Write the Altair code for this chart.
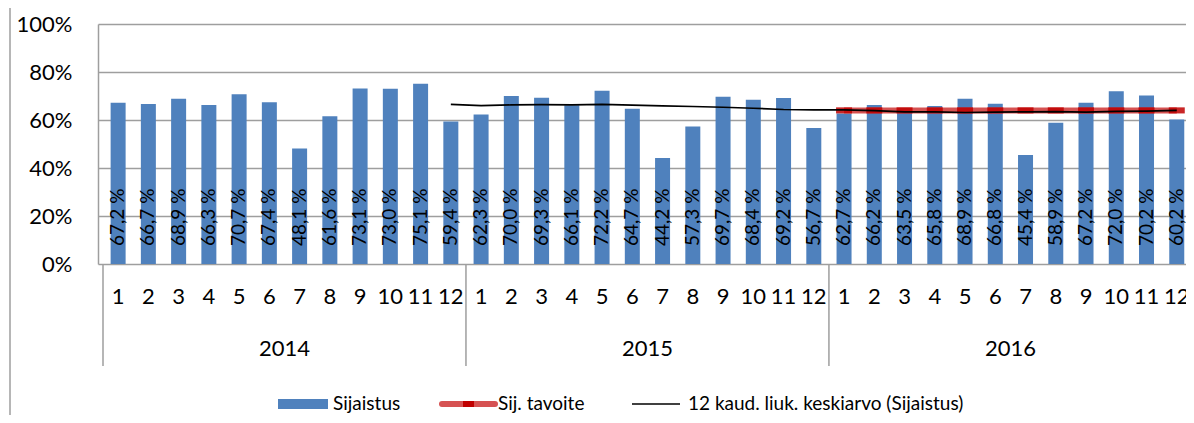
import altair as alt
import pandas as pd

years = ["2014"] * 12 + ["2015"] * 12 + ["2016"] * 12
months = [str(m) for m in range(1, 13)] * 3
sijaistus = [67.2, 66.7, 68.9, 66.3, 70.7, 67.4, 48.1, 61.6, 73.1, 73.0, 75.1, 59.4,
             62.3, 70.0, 69.3, 66.1, 72.2, 64.7, 44.2, 57.3, 69.7, 68.4, 69.2, 56.7,
             62.7, 66.2, 63.5, 65.8, 68.9, 66.8, 45.4, 58.9, 67.2, 72.0, 70.2, 60.2]
liuk_keskiarvo = [None] * 11 + [66.5,
                  66.0, 66.3, 66.4, 66.3, 66.5, 66.2, 65.9, 65.6, 65.3, 64.9, 64.4, 64.2,
                  64.2, 63.9, 63.4, 63.4, 63.1, 63.3, 63.4, 63.5, 63.3, 63.6, 63.7, 64.0]
tavoite = [None] * 24 + [64.0] * 12
legend_labels = ["Sijaistus", "Sij. tavoite", "12 kaud. liuk. keskiarvo (Sijaistus)"]

df = pd.DataFrame({
    "idx": list(range(36)),
    "year": years,
    "month": months,
    "value": sijaistus,
    "ma": liuk_keskiarvo,
    "target": tavoite,
})

FONT = "Lato"
BLUE = "#4F81BD"
GRID = "#9E9E9E"
RED = "#D23F3F"

xscale = alt.Scale(domain=[-0.5, 35.14], nice=False, zero=False)
x = alt.X("idx:Q", scale=xscale, axis=None)
yscale = alt.Scale(domain=[0, 100], nice=False)

base = alt.Chart(df)

bars = base.mark_bar(color=BLUE, size=15, clip=True).encode(
    x=x,
    y=alt.Y("value:Q", scale=yscale,
            axis=alt.Axis(values=[0, 20, 40, 60, 80, 100], labelExpr="datum.value + '%'",
                          title=None, ticks=False, labelPadding=26, labelFontSize=22,
                          labelFont=FONT, labelColor="black", domainColor=GRID,
                          domainWidth=1.5, gridColor=GRID, gridWidth=1.5)),
)

bar_labels = base.transform_calculate(
    lbl="replace(format(datum.value, '.1f'), '.', ',') + ' %'"
).mark_text(angle=270, align="left", baseline="middle", fontSize=19, font=FONT,
            color="black", clip=True).encode(
    x=x, y=alt.value(222), text="lbl:N"
)

ma_line = base.transform_filter("datum.ma != null").mark_line(
    color="black", strokeWidth=1.6, clip=True
).encode(x=x, y=alt.Y("ma:Q", scale=yscale))

target_line = base.transform_filter("datum.target != null").mark_line(
    color=RED, strokeWidth=6, opacity=0.9, clip=True
).encode(x=x, y=alt.Y("target:Q", scale=yscale))

target_marks = base.transform_filter("datum.target != null").mark_point(
    shape="M-1,-0.38L1,-0.38L1,0.38L-1,0.38Z", filled=True, color="#C00000", size=256,
    opacity=0.85, clip=True
).encode(x=x, y=alt.Y("target:Q", scale=yscale))

month_labels = base.mark_text(fontSize=22, font=FONT, color="black", clip=False).encode(
    x=x, y=alt.value(273), text="month:N"
)

year_labels = base.transform_aggregate(
    c="mean(idx)", groupby=["year"]
).mark_text(fontSize=22, font=FONT, color="black").encode(
    x=alt.X("c:Q", scale=xscale, axis=None), y=alt.value(325), text="year:N"
)

dividers = base.transform_aggregate(
    s="min(idx)", groupby=["year"]
).transform_calculate(edge="datum.s - 0.5").mark_rule(
    color=GRID, strokeWidth=1.5
).encode(x=alt.X("edge:Q", scale=xscale, axis=None), y=alt.value(240), y2=alt.value(342))

border = alt.Chart(pd.DataFrame({"a": [0]})).mark_rule(color=GRID, strokeWidth=1.5).encode(
    x=alt.value(-88), y=alt.value(-16), y2=alt.value(391)
)

leg = pd.DataFrame({"label": legend_labels, "k": [0, 1, 2]})
leg_c = alt.Chart(leg)
LY = 380
leg_rect = leg_c.transform_filter("datum.k == 0").mark_rect(color=BLUE).encode(
    x=alt.value(180), x2=alt.value(230), y=alt.value(LY - 5), y2=alt.value(LY + 5)
)
leg_red = leg_c.transform_filter("datum.k == 1").mark_rule(
    color=RED, strokeWidth=6, strokeCap="round", opacity=0.9
).encode(x=alt.value(344), x2=alt.value(397), y=alt.value(LY))
leg_red_mark = leg_c.transform_filter("datum.k == 1").mark_rule(
    color="#C00000", strokeWidth=6
).encode(x=alt.value(365), x2=alt.value(376), y=alt.value(LY))
leg_black = leg_c.transform_filter("datum.k == 2").mark_rule(
    color="black", strokeWidth=1.6
).encode(x=alt.value(534), x2=alt.value(582), y=alt.value(LY))
leg_text = leg_c.transform_calculate(
    px="datum.k == 0 ? 235 : (datum.k == 1 ? 400 : 590)"
).mark_text(align="left", baseline="middle", fontSize=19, font=FONT, color="black").encode(
    x=alt.X("px:Q", scale=None), y=alt.value(LY), text="label:N"
)

chart = alt.layer(
    bars, target_line, target_marks, ma_line, bar_labels,
    month_labels, year_labels, dividers, border,
    leg_rect, leg_red, leg_red_mark, leg_black, leg_text,
).resolve_scale(x="shared").properties(
    width=1088, height=240,
    autosize=alt.AutoSizeParams(type="none"),
    padding={"left": 90, "top": 16, "right": 0, "bottom": 151},
).configure_view(stroke=None).configure_axis(labelFont=FONT)

chart.save("out.html", embed_options={"renderer": "svg", "actions": False})
